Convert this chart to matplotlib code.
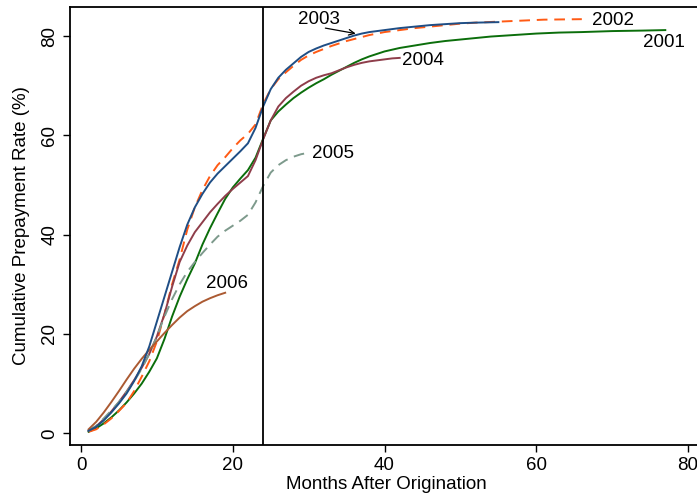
import matplotlib
matplotlib.use("Agg")
import matplotlib.pyplot as plt

plt.rcParams['font.family'] = ['Liberation Sans', 'DejaVu Sans']

# ---- data ----
m2001 = list(range(1, 41)) + [42, 44, 46, 48, 50, 52, 54, 56, 58, 60, 63, 66, 70, 74, 77]
v2001 = [0.3, 1.0, 2.0, 3.2, 4.6, 6.2, 8.0, 10.0, 12.4, 15.1,
         19.0, 23.5, 27.5, 31.0, 34.2, 38.0, 41.3, 44.3, 47.2, 49.5,
         51.3, 53.0, 55.5, 59.3, 63.0, 64.8, 66.2, 67.5, 68.6, 69.6,
         70.5, 71.3, 72.2, 73.0, 73.8, 74.6, 75.3, 75.9, 76.4, 76.9,
         77.6, 78.1, 78.6, 79.0, 79.3, 79.6, 79.9, 80.1, 80.3, 80.5,
         80.7, 80.8, 81.0, 81.1, 81.2]

m2002 = list(range(1, 39)) + [40, 42, 44, 46, 48, 50, 52, 55, 58, 61, 66]
v2002 = [0.3, 0.8, 1.8, 3.0, 4.5, 6.1, 8.5, 11.4, 14.5, 18.5,
         24.0, 30.0, 35.0, 41.0, 45.5, 49.0, 51.8, 54.0, 55.6, 57.4,
         59.0, 60.3, 62.2, 66.3, 69.3, 71.3, 72.7, 74.0, 75.2, 76.1,
         76.8, 77.4, 78.0, 78.5, 79.0, 79.4, 79.8, 80.2,
         80.8, 81.2, 81.6, 81.9, 82.2, 82.5, 82.7, 82.9, 83.1, 83.3, 83.4]

m2003 = list(range(1, 39)) + [40, 42, 44, 46, 48, 50, 52, 55]
v2003 = [0.5, 1.3, 2.6, 4.2, 6.0, 8.0, 10.5, 13.5, 17.5, 22.5,
         27.5, 32.5, 37.5, 42.0, 45.5, 48.2, 50.5, 52.3, 53.8, 55.3,
         56.8, 58.4, 61.5, 65.8, 69.3, 71.6, 73.2, 74.5, 75.8, 76.8,
         77.5, 78.1, 78.6, 79.1, 79.6, 80.1, 80.5, 80.8,
         81.2, 81.6, 81.9, 82.2, 82.4, 82.6, 82.7, 82.8]

m2004 = list(range(1, 43))
v2004 = [0.5, 1.4, 2.8, 4.4, 6.3, 8.4, 10.7, 13.2, 16.0, 19.5,
         24.0, 29.5, 34.5, 37.8, 40.5, 42.5, 44.5, 46.2, 47.8, 49.2,
         50.5, 51.8, 55.0, 59.2, 63.0, 65.8, 67.5, 68.8, 70.0, 70.9,
         71.6, 72.1, 72.5, 73.1, 73.7, 74.2, 74.6, 74.9, 75.1, 75.3,
         75.5, 75.6]

m2005 = list(range(1, 31))
v2005 = [0.5, 1.5, 3.0, 4.6, 6.3, 8.3, 10.5, 13.0, 16.0, 19.5,
         23.5, 27.0, 30.0, 32.5, 34.5, 36.3, 38.0, 39.6, 40.8, 41.8,
         42.8, 44.0, 46.5, 49.8, 52.5, 54.0, 55.0, 55.7, 56.2, 56.5]

m2006 = list(range(1, 20))
v2006 = [0.8, 2.3, 4.2, 6.3, 8.5, 10.8, 13.0, 15.0, 16.8, 18.5,
         20.2, 21.8, 23.3, 24.6, 25.6, 26.5, 27.2, 27.8, 28.3]

xticks = [0, 20, 40, 60, 80]
yticks = [0, 20, 40, 60, 80]

# ---- figure ----
fig = plt.figure(figsize=(6.97, 4.96), dpi=100)
ax = fig.add_axes([70 / 697, 51 / 496, 633 / 697, 438 / 496])

ax.plot(m2001, v2001, color='#0b6e0b', lw=1.4, zorder=3)
ax.plot(m2002, v2002, color='#ff5a14', lw=1.4, ls=(0, (5.5, 3.5)), zorder=3)
ax.plot(m2003, v2003, color='#1f4e85', lw=1.4, zorder=4)
ax.plot(m2004, v2004, color='#8e3d4a', lw=1.4, zorder=3)
ax.plot(m2005, v2005, color='#7d9a8c', lw=1.4, ls=(0, (5.5, 3.5)), zorder=3)
ax.plot(m2006, v2006, color='#ab5a32', lw=1.4, zorder=3)

ax.axvline(24, color='black', lw=1.3, zorder=5)

fs = 13.5
ax.text(70.1, 83.2, '2002', fontsize=fs, ha='center', va='center')
ax.text(76.8, 78.6, '2001', fontsize=fs, ha='center', va='center')
ax.text(45.1, 75.0, '2004', fontsize=fs, ha='center', va='center')
ax.text(33.2, 56.3, '2005', fontsize=fs, ha='center', va='center')
ax.text(19.2, 30.1, '2006', fontsize=fs, ha='center', va='center')
ax.text(31.4, 83.3, '2003', fontsize=fs, ha='center', va='center')
ax.annotate('', xy=(36.2, 80.5), xytext=(32.2, 81.6),
            arrowprops=dict(arrowstyle='->', color='black', lw=0.9,
                            shrinkA=0, shrinkB=0,
                            mutation_scale=10))

ax.set_xlim(-1.45, 81.97)
ax.set_ylim(-2.36, 85.85)
ax.set_xticks(xticks)
ax.set_yticks(yticks)
ax.tick_params(axis='both', direction='out', length=5, width=1,
               labelsize=fs, color='black')
ax.tick_params(axis='x', pad=4)
for lab in ax.get_yticklabels():
    lab.set_rotation(90)
    lab.set_va('center')
ax.spines['right'].set_visible(False)
for s in ['left', 'top', 'bottom']:
    ax.spines[s].set_linewidth(1.3)

ax.set_xlabel('Months After Origination', fontsize=fs, labelpad=1)
ax.set_ylabel('Cumulative Prepayment Rate (%)', fontsize=fs, labelpad=8)

fig.savefig('out.png', dpi=100)
